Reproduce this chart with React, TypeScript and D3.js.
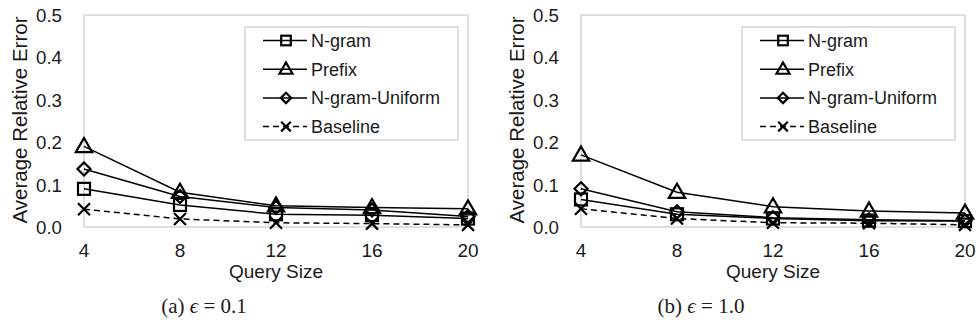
import * as d3 from "d3"

const querySizes = [4, 8, 12, 16, 20]
const yTicks = [0, 0.1, 0.2, 0.3, 0.4, 0.5]
const seriesNames = ["N-gram", "Prefix", "N-gram-Uniform", "Baseline"]

// (a) epsilon = 0.1
const ngramA = [0.09, 0.052, 0.03, 0.028, 0.02]
const prefixA = [0.19, 0.082, 0.05, 0.046, 0.043]
const uniformA = [0.137, 0.072, 0.046, 0.04, 0.025]
const baselineA = [0.042, 0.019, 0.01, 0.008, 0.005]

// (b) epsilon = 1.0
const ngramB = [0.065, 0.03, 0.02, 0.015, 0.014]
const prefixB = [0.17, 0.082, 0.048, 0.038, 0.033]
const uniformB = [0.09, 0.036, 0.022, 0.017, 0.015]
const baselineB = [0.043, 0.02, 0.01, 0.009, 0.005]

const panels = [
  { label: "(a)", eps: "0.1", left: 84, series: [ngramA, prefixA, uniformA, baselineA] },
  { label: "(b)", eps: "1.0", left: 581, series: [ngramB, prefixB, uniformB, baselineB] },
]

const W = 384
const TOP = 15
const H = 212
const FONT = "Liberation Sans, Arial, sans-serif"
const GRID = "#bfbfbf"
const TXT = "#1a1a1a"

type Kind = "square" | "triangle" | "diamond" | "cross"
const kinds: Kind[] = ["square", "triangle", "diamond", "cross"]

function Marker({ kind, x, y, s = 1 }: { kind: Kind; x: number; y: number; s?: number }) {
  const common = { fill: "none", stroke: "#000", strokeWidth: 2.2 / s }
  let shape
  if (kind === "square") shape = <rect x={-6} y={-6} width={12} height={12} {...common} />
  else if (kind === "triangle") {
    const p = d3.symbol(d3.symbolTriangle, 115)()
    shape = <path d={p ?? ""} transform="translate(0,1)" {...common} />
  } else if (kind === "diamond") shape = <path d="M0,-6.5L6.5,0L0,6.5L-6.5,0Z" {...common} />
  else shape = <path d="M-6,-6L6,6M6,-6L-6,6" {...common} />
  return <g transform={`translate(${x},${y}) scale(${s})`}>{shape}</g>
}

function Panel({ p }: { p: (typeof panels)[number] }) {
  const x = d3.scalePoint<number>().domain(querySizes).range([0, W])
  const y = d3.scaleLinear().domain([0, 0.5]).range([H, 0])
  const line = d3
    .line<number>()
    .x((_, i) => x(querySizes[i]) ?? 0)
    .y((d) => y(d))

  return (
    <g transform={`translate(${p.left},${TOP})`}>
      <rect x={0} y={0} width={W} height={H} fill="none" stroke={GRID} strokeWidth={1} />
      {yTicks.map((t) => (
        <text key={t} x={-22} y={y(t) + 7} textAnchor="end" fontSize={18.7} fill={TXT} fontFamily={FONT}>
          {t.toFixed(1)}
        </text>
      ))}
      {querySizes.map((q) => (
        <text key={q} x={x(q)} y={H + 30} textAnchor="middle" fontSize={19} fill={TXT} fontFamily={FONT}>
          {q}
        </text>
      ))}
      <text x={W / 2} y={H + 51} textAnchor="middle" fontSize={19} fill={TXT} fontFamily={FONT}>
        Query Size
      </text>
      <text
        transform={`translate(-57,${H / 2 - 1}) rotate(-90)`}
        textAnchor="middle"
        fontSize={20.5}
        fill={TXT}
        fontFamily={FONT}
      >
        Average Relative Error
      </text>

      {p.series.map((vals, si) => (
        <g key={si}>
          <path
            d={line(vals) ?? ""}
            fill="none"
            stroke="#000"
            strokeWidth={1.5}
            strokeDasharray={si === 3 ? "6,4" : undefined}
          />
          {vals.map((v, i) => (
            <Marker key={i} kind={kinds[si]} x={x(querySizes[i]) ?? 0} y={y(v)} />
          ))}
        </g>
      ))}

      {/* legend */}
      <g transform={`translate(${161},${12})`}>
        <rect x={0} y={0} width={213} height={113} fill="#fff" stroke={GRID} strokeWidth={1} />
        {seriesNames.map((name, i) => {
          const cy = 13.5 + i * 28.7
          return (
            <g key={name}>
              <line
                x1={18}
                x2={62}
                y1={cy}
                y2={cy}
                stroke="#000"
                strokeWidth={1.5}
                strokeDasharray={i === 3 ? "6,4" : undefined}
              />
              <Marker kind={kinds[i]} x={41} y={cy} s={0.8} />
              <text x={66} y={cy + 6.5} fontSize={18} fill={TXT} fontFamily={FONT}>
                {name}
              </text>
            </g>
          )
        })}
      </g>

      <text x={W / 2 - 72} y={H + 86} textAnchor="middle" fontSize={21} fill={TXT} fontFamily="Liberation Serif, serif">
        {p.label} <tspan fontStyle="italic">ϵ</tspan> = {p.eps}
      </text>
    </g>
  )
}

export default function App() {
  return (
    <svg width={979} height={330} style={{ position: "absolute", left: 0, top: 0, background: "#fff" }}>
      {panels.map((p) => (
        <Panel key={p.label} p={p} />
      ))}
    </svg>
  )
}
